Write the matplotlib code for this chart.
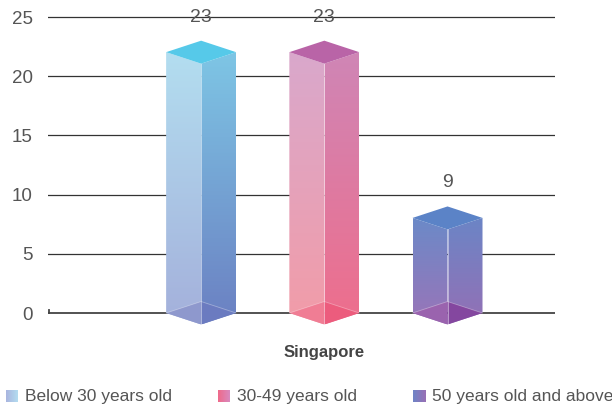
import numpy as np
import matplotlib.pyplot as plt
from matplotlib.patches import Polygon
from matplotlib.colors import LinearSegmentedColormap

plt.rcParams['font.family'] = ['Liberation Sans', 'DejaVu Sans']

# data
category = "Singapore"
series = ["Below 30 years old", "30-49 years old", "50 years old and above"]
values = [23, 23, 9]
yticks = [0, 5, 10, 15, 20, 25]

# colours per bar: left face (top, bottom), right face (top, bottom), top, bottom halves
left_cols = [("#b3def0", "#a4b0db"), ("#d9a8cc", "#f29ca8"), ("#6b8ac8", "#9a74b8")]
right_cols = [("#7ec6e5", "#6b80c2"), ("#cf86b6", "#ee6e8c"), ("#6b85c6", "#9470b5")]
top_cols = ["#56c9e9", "#b964a7", "#5b83c7"]
bottom_cols = [("#8e98cd", "#6b7bc0"), ("#f07d94", "#ec5c7d"), ("#9a63ae", "#84479f")]
legend_cols = [("#a9b5df", "#b4dcf0"), ("#ef6a8a", "#d98abf"), ("#6f84c6", "#9870b5")]

text_col = "#555555"

fig = plt.figure(figsize=(6.12, 4.11), dpi=100)
W, H = 612, 411
ylo, yhi = -1.5, 26.2
pxu = 11.84
bot_px = 313 + (-ylo) * pxu
top_px = 313 - yhi * pxu
ax = fig.add_axes([48 / W, (H - bot_px) / H, (555 - 48) / W, (bot_px - top_px) / H])
ax.set_xlim(0, 1)
ax.set_ylim(ylo, yhi)
for s in ax.spines.values():
    s.set_visible(False)
ax.set_xticks([])
ax.set_yticks(yticks)
ax.tick_params(axis='y', length=0, pad=11, labelsize=13.5, labelcolor=text_col)

# gridlines
for t in yticks:
    ax.axhline(t, color="#333333" if t else "#444444", lw=0.9 if t else 1.3, zorder=1)
ax.plot([0.0015, 0.0015], [0, 0.25], color="#444444", lw=1.3, zorder=1)


def grad_face(verts, c_top, c_bot):
    xs = [v[0] for v in verts]
    ys = [v[1] for v in verts]
    cmap = LinearSegmentedColormap.from_list("g", [c_bot, c_top])
    g = np.linspace(0, 1, 256).reshape(-1, 1)
    im = ax.imshow(g, cmap=cmap, extent=[min(xs), max(xs), min(ys), max(ys)],
                   origin='lower', aspect='auto', zorder=3, interpolation='bilinear')
    poly = Polygon(verts, closed=True, facecolor='none', edgecolor='none')
    ax.add_patch(poly)
    im.set_clip_path(poly)


w = 0.069
d = 0.97
centers = 0.545 + (np.arange(len(values)) - 1) * 0.243
for i, v in enumerate(values):
    cx = centers[i]
    t = v - d
    left = [(cx - w, 0), (cx, -d), (cx, t - d), (cx - w, t)]
    right = [(cx, -d), (cx + w, 0), (cx + w, t), (cx, t - d)]
    grad_face(left, *left_cols[i])
    grad_face(right, *right_cols[i])
    # visible bottom diamond (front half seen through faces)
    ax.add_patch(Polygon([(cx - w, 0), (cx, d), (cx, -d)], closed=True,
                         facecolor=bottom_cols[i][0], edgecolor='none', zorder=4))
    ax.add_patch(Polygon([(cx, d), (cx + w, 0), (cx, -d)], closed=True,
                         facecolor=bottom_cols[i][1], edgecolor='none', zorder=4))
    ax.plot([cx - w, cx, cx + w], [0, d, 0], color="white", lw=0.6, alpha=0.35, zorder=5)
    ax.plot([cx, cx], [-d, t - d], color="white", lw=0.7, alpha=0.45, zorder=5)
    # top diamond
    ax.add_patch(Polygon([(cx - w, t), (cx, t + d), (cx + w, t), (cx, t - d)], closed=True,
                         facecolor=top_cols[i], edgecolor='none', zorder=6))
    ax.text(cx, v + 2, str(v), ha='center', va='center', fontsize=14,
            color=text_col, zorder=7)

ax.text(centers[1], (bot_px - 352) / pxu + ylo, category, ha='center', va='center',
        fontsize=12, fontweight='bold', color="#444444")

# legend
leg_x = [6, 218, 413]
leg_y = 396
for i, name in enumerate(series):
    lax = fig.add_axes([leg_x[i] / W, (H - leg_y - 6) / H, 12 / W, 12 / H])
    cmap = LinearSegmentedColormap.from_list("l", list(legend_cols[i]))
    lax.imshow(np.linspace(0, 1, 64).reshape(1, -1), cmap=cmap, aspect='auto')
    lax.axis('off')
    fig.text((leg_x[i] + 19) / W, (H - leg_y) / H, name, ha='left', va='center',
             fontsize=12.5, color=text_col)

fig.savefig("out.png", dpi=100)
